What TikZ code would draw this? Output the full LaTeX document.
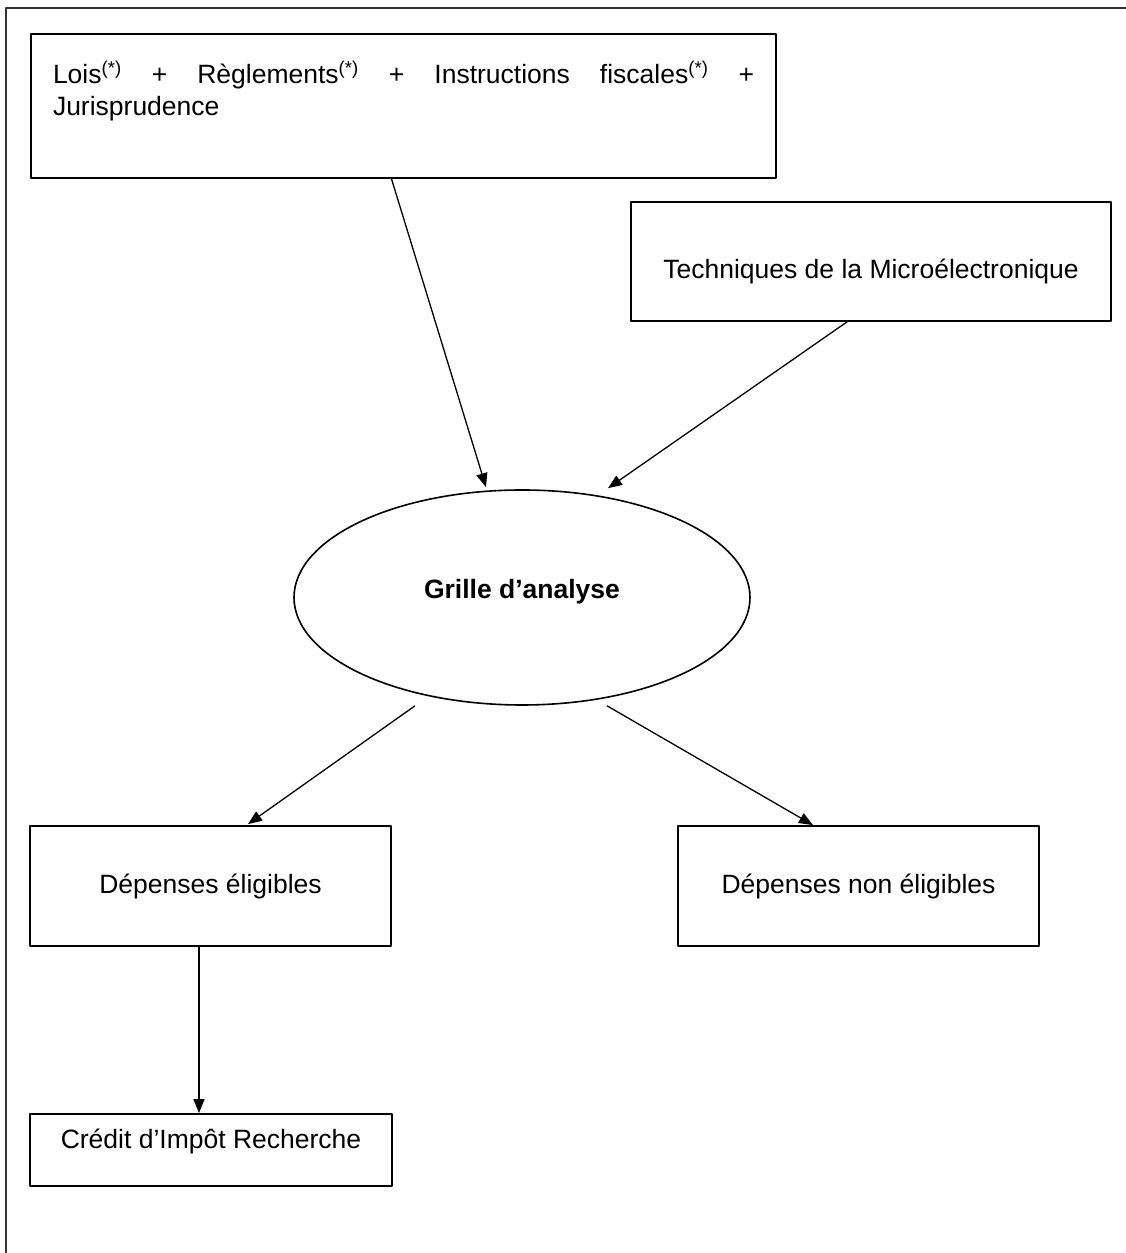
\documentclass[tikz,border=0pt]{standalone}
\usepackage{fontspec}
\setmainfont{Liberation Sans}
\usetikzlibrary{arrows.meta,shapes.geometric}

\begin{document}
\begin{tikzpicture}[>={Triangle[length=14bp,width=11bp]},line join=bevel,
  font=\fontsize{26.5bp}{32bp}\selectfont,
  box/.style={draw,rectangle,line width=1.8bp,inner sep=0pt},
  link/.style={->,line width=1.3bp}]
%%
\useasboundingbox (0bp,0bp) rectangle (1126bp,1253bp);
\draw [line width=1.2bp,black!80] (6bp,0bp) |- (1126bp,1245bp);
%%
\node (lois) at (403.5bp,1147bp) [box,minimum width=745bp,minimum height=144bp,text width=701bp,align=left,text height=20bp,text depth=64bp] {Lois\textsuperscript{(*)}\hfill+\hfill R\`eglements\textsuperscript{(*)}\hfill+\hfill Instructions\hfill fiscales\textsuperscript{(*)}\hfill+\\Jurisprudence};
  \node (techniques) at (871bp,991.5bp) [box,minimum width=480bp,minimum height=119bp,text height=35bp,text depth=0bp] {Techniques de la Micro\'electronique};
  \node (grille) at (522bp,655.5bp) [draw,ellipse,line width=1.6bp,inner sep=0pt,minimum width=456bp,minimum height=215bp,text height=18bp,text depth=15bp] {\bfseries Grille d’analyse};
  \node (eligibles) at (210.5bp,367bp) [box,minimum width=361bp,minimum height=120bp] {D\'epenses \'eligibles};
  \node (noneligibles) at (858.5bp,367bp) [box,minimum width=361bp,minimum height=120bp] {D\'epenses non \'eligibles};
  \node (credit) at (211bp,103bp) [box,minimum width=362bp,minimum height=72bp,text height=18bp,text depth=20bp] {Cr\'edit d’Imp\^ot Recherche};
%%
  \draw [link] ([xshift=-12bp]lois.south) -- ([xshift=-36bp,yshift=2bp]grille.north);
  \draw [link] ([xshift=-24bp]techniques.south) -- ([xshift=86bp,yshift=1bp]grille.north);
  \draw [link] ([xshift=-107bp]grille.south) -- ([xshift=37.5bp,yshift=1bp]eligibles.north);
  \draw [link] ([xshift=85bp]grille.south) -- ([xshift=-45.5bp]noneligibles.north);
  \draw [link] ([xshift=-11.5bp]eligibles.south) -- ([xshift=-12bp]credit.north);
%
\end{tikzpicture}
\end{document}
